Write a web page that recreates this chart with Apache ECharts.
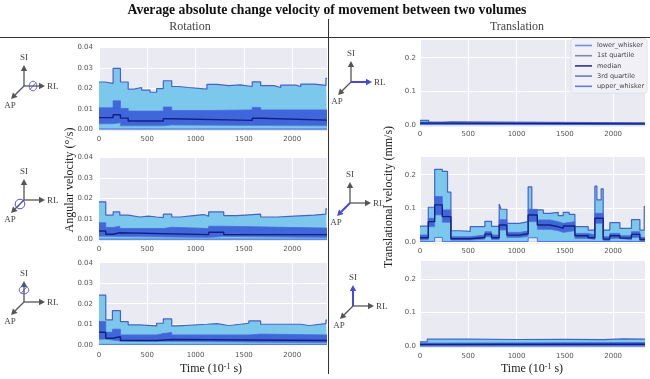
<!DOCTYPE html>
<html><head><meta charset="utf-8">
<script src="https://cdn.jsdelivr.net/npm/echarts@6/dist/echarts.min.js"></script>
<style>html,body{margin:0;padding:0;background:#fff}#c{width:650px;height:379px}</style>
</head><body><div id="c"></div>
<script>
// ---------------- DATA (time in 10^-1 s, value) : step change points ----------------
const seriesNames = ['lower_whisker', '1st quartile', 'median', '3rd quartile', 'upper_whisker'];
const rotYTicks = ['0.00', '0.01', '0.02', '0.03', '0.04'];
const transYTicks = ['0.0', '0.1', '0.2'];
const xTicks = [0, 500, 1000, 1500, 2000];

// Rotation about RL
const rotRL_upper = [[0,0.0232],[60,0.0225],[146,0.0298],[222,0.0232],[302,0.0197],[361,0.0205],[441,0.0192],[528,0.0182],[597,0.0200],[666,0.0238],[753,0.0210],[822,0.0205],[927,0.0197],[1117,0.0220],[1221,0.0214],[1343,0.0218],[1464,0.0210],[1586,0.0233],[1673,0.0214],[1811,0.0205],[1881,0.0217],[2037,0.0210],[2089,0.0222],[2228,0.0215],[2349,0.0250],[2360,0.0250]];
const rotRL_q3 = [[0,0.0106],[146,0.0140],[222,0.0103],[302,0.0090],[666,0.0110],[753,0.0093],[1117,0.0096],[1586,0.0108],[1673,0.0096],[2360,0.0096]];
const rotRL_median = [[0,0.0058],[146,0.0072],[222,0.0056],[302,0.0042],[666,0.0053],[753,0.0045],[1586,0.0055],[1673,0.0046],[2360,0.0046]];
const rotRL_q1 = [[0,0.0028],[146,0.0033],[222,0.0018],[666,0.0022],[753,0.0018],[2360,0.0018]];
const rotRL_lower = [[0,0.0003],[2360,0.0003]];

// Rotation about AP
const rotAP_upper = [[0,0.0184],[70,0.0119],[146,0.0135],[215,0.0119],[302,0.0110],[423,0.0114],[510,0.0110],[597,0.0107],[666,0.0124],[753,0.0110],[840,0.0117],[979,0.0122],[1083,0.0114],[1135,0.0135],[1291,0.0117],[1430,0.0124],[1673,0.0110],[1846,0.0114],[2020,0.0119],[2228,0.0124],[2349,0.0150],[2360,0.0150]];
const rotAP_q3 = [[0,0.0082],[70,0.0059],[146,0.0065],[215,0.0054],[666,0.0060],[753,0.0054],[1135,0.0065],[1291,0.0056],[2360,0.0056]];
const rotAP_median = [[0,0.0042],[70,0.0026],[146,0.0033],[215,0.0024],[1135,0.0036],[1291,0.0024],[2360,0.0024]];
const rotAP_q1 = [[0,0.0016],[70,0.0010],[1135,0.0015],[1291,0.0010],[2360,0.0010]];
const rotAP_lower = [[0,0.0002],[2360,0.0002]];

// Rotation about SI
const rotSI_upper = [[0,0.0242],[70,0.0121],[139,0.0166],[222,0.0113],[302,0.0097],[423,0.0092],[597,0.0105],[666,0.0126],[753,0.0092],[805,0.0100],[1117,0.0103],[1221,0.0094],[1343,0.0100],[1464,0.0105],[1551,0.0116],[1673,0.0100],[2089,0.0094],[2176,0.0103],[2349,0.0120],[2360,0.0120]];
const rotSI_q3 = [[0,0.0113],[70,0.0061],[139,0.0076],[222,0.0048],[597,0.0055],[666,0.0060],[753,0.0048],[1551,0.0052],[1673,0.0048],[2360,0.0048]];
const rotSI_median = [[0,0.0061],[70,0.0032],[139,0.0039],[222,0.0021],[597,0.0026],[753,0.0021],[2360,0.0021]];
const rotSI_q1 = [[0,0.0027],[70,0.0018],[222,0.0010],[2360,0.0010]];
const rotSI_lower = [[0,0.0002],[2360,0.0002]];

// Translation along RL
const trRL_upper = [[0,0.013],[90,0.007],[230,0.0085],[330,0.006],[2330,0.006]];
const trRL_q3 = [[0,0.008],[90,0.0042],[2330,0.0042]];
const trRL_median = [[0,0.005],[90,0.0026],[2330,0.0026]];
const trRL_q1 = [[0,0.0022],[90,0.0012],[2330,0.0012]];
const trRL_lower = [[0,0.0002],[2330,0.0002]];

// Translation along AP
const trAP_upper = [[0,0.047],[86,0.103],[152,0.216],[231,0.210],[285,0.148],[320,0.033],[410,0.031],[520,0.045],[672,0.061],[741,0.046],[820,0.113],[838,0.097],[900,0.055],[1030,0.060],[1120,0.164],[1158,0.095],[1277,0.085],[1345,0.088],[1431,0.078],[1483,0.088],[1545,0.082],[1604,0.045],[1742,0.035],[1811,0.166],[1832,0.125],[1876,0.158],[1897,0.035],[1966,0.057],[2070,0.040],[2190,0.066],[2277,0.035],[2322,0.105],[2330,0.105]];
const trAP_q3 = [[0,0.020],[86,0.070],[152,0.135],[231,0.095],[320,0.015],[520,0.020],[672,0.030],[741,0.020],[820,0.066],[900,0.028],[1030,0.032],[1120,0.097],[1215,0.065],[1345,0.060],[1431,0.055],[1483,0.060],[1604,0.025],[1742,0.020],[1811,0.085],[1897,0.015],[1966,0.025],[2070,0.018],[2190,0.030],[2277,0.013],[2330,0.013]];
const trAP_median = [[0,0.012],[86,0.060],[152,0.110],[231,0.075],[320,0.009],[520,0.013],[672,0.023],[741,0.012],[820,0.050],[900,0.020],[1030,0.024],[1120,0.080],[1215,0.050],[1345,0.045],[1431,0.040],[1483,0.047],[1604,0.018],[1742,0.012],[1811,0.070],[1897,0.008],[1966,0.018],[2070,0.011],[2190,0.022],[2277,0.007],[2330,0.007]];
const trAP_q1 = [[0,0.006],[86,0.045],[152,0.080],[231,0.058],[320,0.005],[520,0.008],[672,0.015],[741,0.007],[820,0.035],[900,0.013],[1030,0.016],[1120,0.060],[1215,0.037],[1345,0.033],[1431,0.028],[1483,0.033],[1604,0.010],[1742,0.007],[1811,0.055],[1897,0.004],[1966,0.010],[2070,0.006],[2190,0.013],[2277,0.003],[2330,0.003]];
const trAP_lower = [[0,0.001],[152,0.013],[231,0.001],[1120,0.012],[1215,0.001],[2330,0.001]];

// Translation along SI
const trSI_upper = [[0,0.013],[75,0.021],[500,0.020],[1000,0.0205],[1500,0.0195],[1900,0.022],[2100,0.021],[2330,0.021]];
const trSI_q3 = [[0,0.009],[75,0.011],[2330,0.011]];
const trSI_median = [[0,0.005],[75,0.006],[2330,0.006]];
const trSI_q1 = [[0,0.002],[75,0.003],[2330,0.003]];
const trSI_lower = [[0,0.0003],[2330,0.0003]];

// ---------------- LAYOUT / STYLE ----------------
const C = {bg:'#eaeaf2', sky:'#7cc8ec', royal:'#4066dc', upLine:'#4563c6', q3Line:'#4a6ad8', q1Line:'#5b7ad0', loLine:'#4d74e4', medLine:'#16207c'};
const legendColors = ['#6d8de6', '#7f8aa6', '#28348f', '#5a83d6', '#5a7ae6'];
const tickFont = {fontSize:7, color:'#555', fontFamily:'DejaVu Sans'};

const panels = [
  {box:{left:99, top:46.5, width:228, height:84.5}, xmax:2360, ymin:-0.0007, ymax:0.0405, split:4, fmt:2, step:0.01, ymargin:6, xmargin:5,
   d:[rotRL_upper, rotRL_q3, rotRL_q1, rotRL_lower, rotRL_median]},
  {box:{left:99, top:156.5, width:228, height:84.5}, xmax:2360, ymin:-0.0007, ymax:0.0405, split:4, fmt:2, step:0.01, ymargin:6, xmargin:5,
   d:[rotAP_upper, rotAP_q3, rotAP_q1, rotAP_lower, rotAP_median]},
  {box:{left:99, top:261.7, width:228, height:84.5}, xmax:2360, ymin:-0.0007, ymax:0.0405, split:4, fmt:2, step:0.01, ymargin:6, xmargin:5,
   d:[rotSI_upper, rotSI_q3, rotSI_q1, rotSI_lower, rotSI_median]},
  {box:{left:420, top:39.3, width:225, height:87.5}, xmax:2330, ymin:-0.006, ymax:0.255, split:3, fmt:1, step:0.1, ymargin:4, xmargin:4,
   d:[trRL_upper, trRL_q3, trRL_q1, trRL_lower, trRL_median]},
  {box:{left:420, top:156.3, width:225, height:87.5}, xmax:2330, ymin:-0.006, ymax:0.255, split:3, fmt:1, step:0.1, ymargin:4, xmargin:4,
   d:[trAP_upper, trAP_q3, trAP_q1, trAP_lower, trAP_median]},
  {box:{left:420, top:260.7, width:225, height:87.5}, xmax:2330, ymin:-0.006, ymax:0.255, split:3, fmt:1, step:0.1, ymargin:4, xmargin:4,
   d:[trSI_upper, trSI_q3, trSI_q1, trSI_lower, trSI_median]}
];

const grids = [], xAxes = [], yAxes = [], series = [];
panels.forEach((p, i) => {
  grids.push(Object.assign({show:true, backgroundColor:C.bg, borderWidth:0, containLabel:false}, p.box));
  xAxes.push({type:'value', gridIndex:i, min:0, max:p.xmax, interval:500,
    axisLine:{show:false}, axisTick:{show:false},
    splitLine:{show:true, lineStyle:{color:'#ffffff', width:1}},
    axisLabel:Object.assign({margin:p.xmargin, showMaxLabel:false,
      formatter:v => (xTicks.indexOf(v) >= 0 ? String(v) : '')}, tickFont)});
  const labels = p.fmt === 2 ? rotYTicks : transYTicks;
  yAxes.push({type:'value', gridIndex:i, min:p.ymin, max:p.ymax, splitNumber:p.split,
    axisLine:{show:false}, axisTick:{show:false},
    splitLine:{show:true, lineStyle:{color:'#ffffff', width:1}},
    axisLabel:Object.assign({margin:p.ymargin, showMinLabel:false, showMaxLabel:false,
      formatter:v => { const k = Math.round(v / p.step); return (Math.abs(v / p.step - k) < 1e-6 && labels[k] !== undefined) ? labels[k] : ''; }}, tickFont)});
  const common = {type:'line', xAxisIndex:i, yAxisIndex:i, step:'end', symbol:'none', showSymbol:false, silent:true, animation:false};
  series.push(
    Object.assign({}, common, {name:'upper_whisker', data:p.d[0], lineStyle:{color:C.upLine, width:1.2}, itemStyle:{color:C.upLine}, areaStyle:{color:C.sky, opacity:1}}),
    Object.assign({}, common, {name:'3rd quartile', data:p.d[1], lineStyle:{color:C.q3Line, width:0.8}, itemStyle:{color:C.q3Line}, areaStyle:{color:C.royal, opacity:1}}),
    Object.assign({}, common, {name:'1st quartile', data:p.d[2], lineStyle:{color:C.q1Line, width:0.8}, itemStyle:{color:C.q1Line}, areaStyle:{color:C.sky, opacity:1}}),
    Object.assign({}, common, {name:'lower_whisker', data:p.d[3], lineStyle:{color:C.loLine, width:1}, itemStyle:{color:C.loLine}, areaStyle:{color:C.bg, opacity:1}}),
    Object.assign({}, common, {name:'median', data:p.d[4], lineStyle:{color:C.medLine, width:1.4}, itemStyle:{color:C.medLine}})
  );
});

// ---------------- DECORATIONS ----------------
function txt(x, y, text, font, fill, align, valign, rot) {
  const el = {type:'text', x:x, y:y, silent:true,
    style:{text:text, x:0, y:0, font:font, fill:fill, align:align || 'center', textAlign:align || 'center',
           verticalAlign:valign || 'middle', textVerticalAlign:valign || 'middle'}};
  if (rot) el.rotation = rot;
  return el;
}
function arrow(x1, y1, x2, y2, color, w) {
  const dx = x2 - x1, dy = y2 - y1, L = Math.hypot(dx, dy), ux = dx / L, uy = dy / L;
  const hl = 6, hw = 3.2, bx = x2 - ux * hl, by = y2 - uy * hl;
  return [
    {type:'line', silent:true, shape:{x1:x1, y1:y1, x2:bx, y2:by}, style:{stroke:color, lineWidth:w}},
    {type:'polygon', silent:true, shape:{points:[[x2, y2], [bx - uy * hw, by + ux * hw], [bx + uy * hw, by - ux * hw]]}, style:{fill:color}}
  ];
}
function axisIcon(ox, oy, hi, mode) {
  const g = '#555', b = '#4848dc', f = '9px "Liberation Serif", serif';
  const col = a => (mode === 'arrow' && hi === a) ? b : g;
  const wid = a => (mode === 'arrow' && hi === a) ? 2 : 1.3;
  let els = [];
  els = els.concat(arrow(ox, oy, ox, oy - 21, col('SI'), wid('SI')));
  els = els.concat(arrow(ox, oy, ox + 21, oy, col('RL'), wid('RL')));
  els = els.concat(arrow(ox, oy, ox - 13, oy + 13, col('AP'), wid('AP')));
  els.push(txt(ox, oy - 28, 'SI', f, '#444'));
  els.push(txt(ox + 23, oy + 0.5, 'RL', f, '#444', 'left'));
  els.push(txt(ox - 14, oy + 20, 'AP', f, '#444'));
  if (mode === 'circle') {
    let cx = ox, cy = oy, sx = 1, sy = 1;
    if (hi === 'RL') { cx = ox + 9; sx = 0.8; }
    if (hi === 'AP') { cx = ox - 4; cy = oy + 4; }
    if (hi === 'SI') { cy = oy - 12; sy = 0.8; }
    els.push({type:'circle', silent:true, x:cx, y:cy, scaleX:sx, scaleY:sy, shape:{cx:0, cy:0, r:4.8}, style:{stroke:'#5050d8', fill:null, lineWidth:1}});
    els.push({type:'line', silent:true, shape:{x1:cx - 3, y1:cy + 3.5, x2:cx + 3, y2:cy - 3.5}, style:{stroke:'#5050d8', lineWidth:0.9}});
  }
  return els;
}

const serif = '"Liberation Serif", "Times New Roman", serif';
let graphics = [
  txt(327, 10, 'Average absolute change velocity of movement between two volumes', 'bold 13.7px ' + serif, '#111'),
  txt(190, 27, 'Rotation', '12px ' + serif, '#444'),
  txt(517, 27, 'Translation', '12px ' + serif, '#444'),
  {type:'line', silent:true, shape:{x1:0, y1:37.5, x2:650, y2:37.5}, style:{stroke:'#333', lineWidth:1}},
  {type:'line', silent:true, shape:{x1:328.5, y1:19, x2:328.5, y2:374}, style:{stroke:'#333', lineWidth:1}},
  txt(70, 180, 'Angular velocity (°/s)', '12px ' + serif, '#222', 'center', 'middle', Math.PI / 2),
  txt(389, 197, 'Translational velocity (mm/s)', '12px ' + serif, '#222', 'center', 'middle', Math.PI / 2),
  {type:'text', silent:true, x:211, y:369, style:{text:'Time (10{s|-1} s)', x:0, y:0, font:'12px ' + serif, fill:'#222',
     align:'center', textAlign:'center', verticalAlign:'middle', textVerticalAlign:'middle',
     rich:{s:{fontSize:8, fontFamily:'Liberation Serif', verticalAlign:'top', fill:'#222'}}}},
  {type:'text', silent:true, x:532, y:369, style:{text:'Time (10{s|-1} s)', x:0, y:0, font:'12px ' + serif, fill:'#222',
     align:'center', textAlign:'center', verticalAlign:'middle', textVerticalAlign:'middle',
     rich:{s:{fontSize:8, fontFamily:'Liberation Serif', verticalAlign:'top', fill:'#222'}}}}
];
graphics = graphics
  .concat(axisIcon(24, 86, 'RL', 'circle'))
  .concat(axisIcon(24, 200, 'AP', 'circle'))
  .concat(axisIcon(24, 302, 'SI', 'circle'))
  .concat(axisIcon(351, 82, 'RL', 'arrow'))
  .concat(axisIcon(350, 203, 'AP', 'arrow'))
  .concat(axisIcon(353, 306, 'SI', 'arrow'));

const chart = echarts.init(document.getElementById('c'), null, {renderer:'canvas', width:650, height:379});
chart.setOption({
  animation:false,
  backgroundColor:'#ffffff',
  grid:grids, xAxis:xAxes, yAxis:yAxes, series:series,
  legend:{left:571, top:38.5, orient:'vertical', icon:'rect', itemWidth:17, itemHeight:1.6, itemGap:2.2,
    padding:[3,3,3,4], backgroundColor:'rgba(240,240,246,0.95)', borderColor:'#dcdce6', borderWidth:0.8, borderRadius:3,
    selectedMode:false,
    textStyle:{fontSize:6.5, color:'#444', fontFamily:'DejaVu Sans', lineHeight:8},
    data:seriesNames.map((n, k) => ({name:n, itemStyle:{color:legendColors[k]}}))},
  graphic:graphics
});
</script></body></html>
